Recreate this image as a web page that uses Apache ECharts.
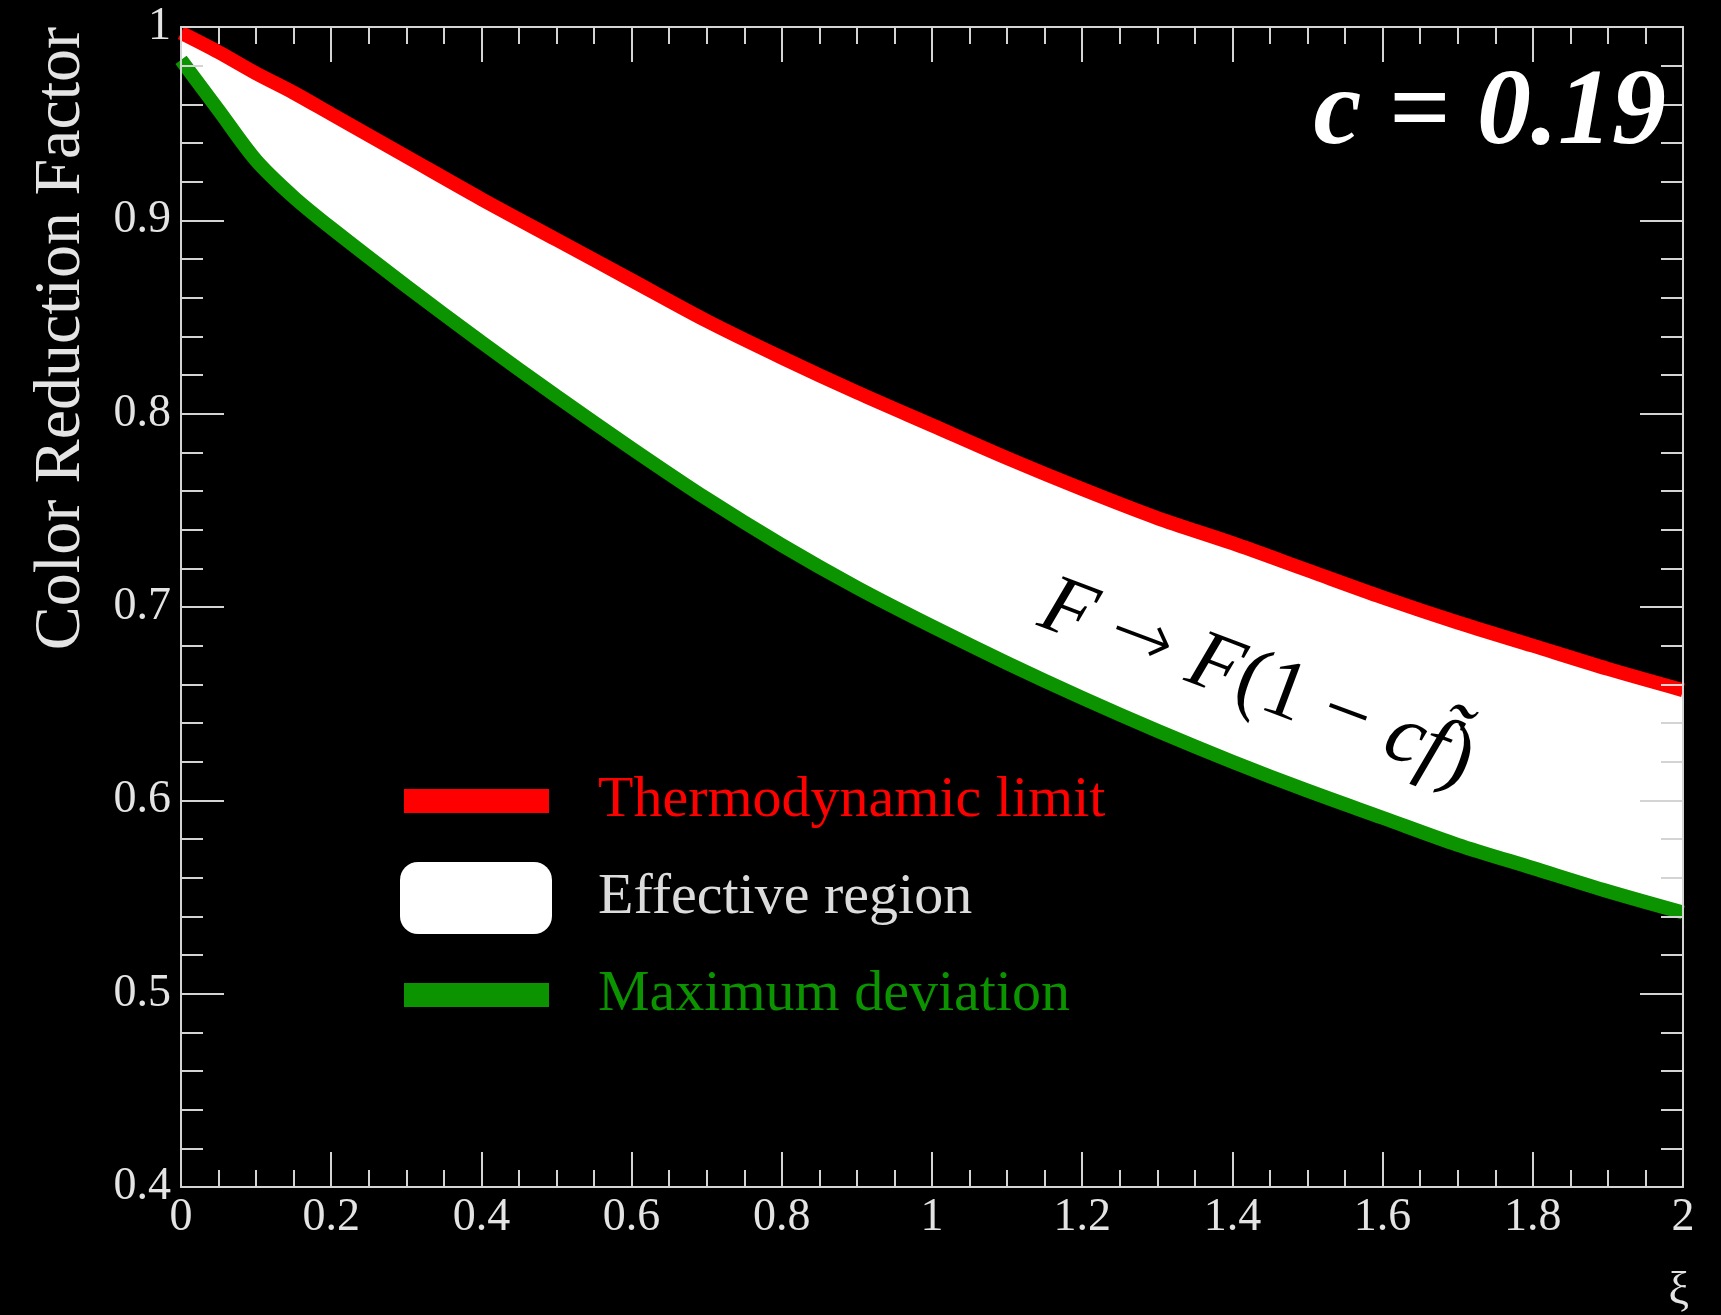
<!DOCTYPE html>
<html><head><meta charset="utf-8">
<script src="https://cdn.jsdelivr.net/npm/echarts@6/dist/echarts.min.js"></script>
<style>html,body{margin:0;padding:0;background:#000;}#c{width:1721px;height:1315px;}</style>
</head><body><div id="c"></div>
<script>
// ---- data ----
const xi = [0, 0.05, 0.1, 0.15, 0.2, 0.3, 0.4, 0.5, 0.6, 0.7, 0.8, 0.9, 1.0, 1.1, 1.2, 1.3, 1.4, 1.5, 1.6, 1.7, 1.8, 1.9, 2.0];
const thermodynamicLimit = [0.997, 0.987, 0.976, 0.966, 0.955, 0.933, 0.911, 0.890, 0.869, 0.848, 0.829, 0.811, 0.794, 0.777, 0.761, 0.746, 0.733, 0.719, 0.705, 0.692, 0.680, 0.668, 0.657];
const maximumDeviation = [0.983, 0.957, 0.931, 0.912, 0.896, 0.866, 0.837, 0.809, 0.782, 0.756, 0.732, 0.710, 0.690, 0.671, 0.653, 0.636, 0.620, 0.605, 0.591, 0.577, 0.565, 0.553, 0.542];
const seriesNames = ['Thermodynamic limit', 'Effective region', 'Maximum deviation'];
const xRange = [0, 2], xStep = 0.2;
const yRange = [0.4, 1], yStep = 0.1;
const xTitle = 'ξ';
const yTitle = 'Color Reduction Factor';
const cLabel = 'c = 0.19';
const formulaText = '{i|F} {a|→} {i|F}(1 − {i|c}{i|f̃})';

// ---- styling ----
const FONT = "'Liberation Serif', 'Times New Roman', serif";
const AX = '#d4d4d4';
const TXT = '#e4e4e4';
const RED = '#ff0000';
const GREEN = '#0b9300';

const pts = arr => xi.map((x, i) => [x, arr[i]]);

function xAx(pos, showLabel) {
  return {
    type: 'value', min: xRange[0], max: xRange[1], interval: xStep, position: pos, z: 10,
    axisLine: { onZero: false, lineStyle: { color: AX, width: 2 } },
    axisTick: { inside: true, length: 35, lineStyle: { color: AX, width: 2 } },
    minorTick: { show: true, splitNumber: 4, length: 17, lineStyle: { color: AX, width: 2 } },
    splitLine: { show: false }, minorSplitLine: { show: false },
    axisLabel: { show: showLabel, color: TXT, fontFamily: FONT, fontSize: 46, margin: 8 }
  };
}
function yAx(pos, showLabel) {
  return {
    type: 'value', min: yRange[0], max: yRange[1], interval: yStep, position: pos, z: 10,
    axisLine: { onZero: false, lineStyle: { color: AX, width: 2 } },
    axisTick: { inside: true, length: 43, lineStyle: { color: AX, width: 2 } },
    minorTick: { show: true, splitNumber: 5, length: 22, lineStyle: { color: AX, width: 2 } },
    splitLine: { show: false }, minorSplitLine: { show: false },
    axisLabel: { show: showLabel, color: TXT, fontFamily: FONT, fontSize: 46, margin: 10 }
  };
}

const xBottom = Object.assign(xAx('bottom', true), {
  name: xTitle, nameLocation: 'end', nameGap: 6, nameMoveOverlap: false,
  nameTextStyle: { color: TXT, fontFamily: FONT, fontSize: 46, align: 'right', verticalAlign: 'top', padding: [82, 0, 0, 0] }
});
const yLeft = Object.assign(yAx('left', true), {
  name: yTitle, nameLocation: 'end', nameGap: 0, nameRotate: 90, nameMoveOverlap: false,
  nameTextStyle: { color: TXT, fontFamily: FONT, fontSize: 66, lineHeight: 66, align: 'right', verticalAlign: 'bottom', padding: [0, 0, 86, 0] }
});

function legendFor(name, left, top, w, h, icon, color, textColor, gap) {
  return {
    data: [{ name: name, icon: icon, itemStyle: { color: color, borderWidth: 0 } }],
    left: left, top: top, padding: 0, itemWidth: w, itemHeight: h, selectedMode: false, z: 20,
    textStyle: { color: textColor, fontFamily: FONT, fontSize: 58, lineHeight: 60, padding: [0, 0, 0, gap] }
  };
}

// white band between the two curves, drawn through the axis scales
function renderBand(params, api) {
  if (params.dataIndex !== 0) return null;
  const upper = xi.map((x, i) => api.coord([x, thermodynamicLimit[i]]));
  const lower = xi.map((x, i) => api.coord([x, maximumDeviation[i]])).reverse();
  return { type: 'polygon', shape: { points: upper.concat(lower) }, style: { fill: '#ffffff' } };
}

const chart = echarts.init(document.getElementById('c'), null, { renderer: 'canvas' });
chart.setOption({
  backgroundColor: '#000',
  animation: false,
  grid: { left: 181, top: 27, right: 38, bottom: 127, containLabel: false },
  xAxis: [xBottom, xAx('top', false)],
  yAxis: [yLeft, yAx('right', false)],
  title: {
    text: cLabel, right: 55, top: 60, padding: 0, z: 20,
    textStyle: { color: '#ffffff', fontFamily: FONT, fontWeight: 'bold', fontStyle: 'italic', fontSize: 108, lineHeight: 110 }
  },
  legend: [
    legendFor(seriesNames[0], 404, 771, 145, 24, 'rect', RED, RED, 44),
    legendFor(seriesNames[1], 400, 862, 152, 72, 'roundRect', '#ffffff', '#dcdcdc', 41),
    legendFor(seriesNames[2], 404, 965, 145, 24, 'rect', GREEN, GREEN, 44)
  ],
  series: [
    { name: seriesNames[1], type: 'custom', renderItem: renderBand, data: pts(thermodynamicLimit),
      color: '#ffffff', z: 1, silent: true, clip: true },
    { name: seriesNames[0], type: 'line', data: pts(thermodynamicLimit), symbol: 'none', smooth: 0.3, z: 3,
      color: RED, lineStyle: { color: RED, width: 14 } },
    { name: seriesNames[2], type: 'line', data: pts(maximumDeviation), symbol: 'none', smooth: 0.3, z: 3,
      color: GREEN, lineStyle: { color: GREEN, width: 14 } }
  ],
  graphic: [{
    type: 'text', x: 1257, y: 684, rotation: -0.358, z: 100,
    style: {
      text: formulaText, fill: '#000', fontFamily: FONT, fontSize: 84,
      align: 'center', verticalAlign: 'middle', textAlign: 'center', textVerticalAlign: 'middle',
      rich: {
        i: { fontStyle: 'italic', fontFamily: FONT, fontSize: 84, fill: '#000' },
        a: { fontFamily: "'DejaVu Sans', sans-serif", fontWeight: 200, fontSize: 76, fill: '#000' }
      }
    }
  }]
});
</script>
</body></html>
